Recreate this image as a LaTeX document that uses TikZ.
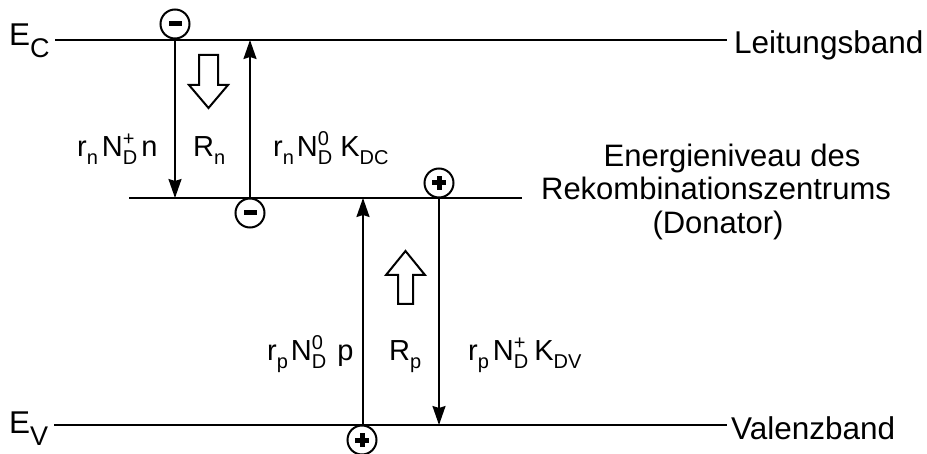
\documentclass[tikz,border=0pt]{standalone}
\usepackage{fontspec}
\setmainfont{Liberation Sans}
\usetikzlibrary{arrows.meta,calc}
\newcommand\lblsize{\fontsize{29}{34}\selectfont}
\newcommand\subsz{\fontsize{20}{24}\selectfont}
\newcommand\lo[1]{\raisebox{-0.27em}{\subsz #1}}
\newcommand\losup[2]{\rlap{\raisebox{0.4em}{\subsz #1}}\raisebox{-0.27em}{\subsz #2}}
\newcommand\bigsub[1]{\raisebox{-0.38em}{\fontsize{27}{30}\selectfont #1}}
\begin{document}
\begin{tikzpicture}[x=1pt,y=-1pt,
  band/.style={line width=2.5pt},
  flow/.style={line width=2pt,-{Stealth[length=19pt,width=13pt,inset=2pt]}},
  hollow/.style={line width=2pt,fill=white,line join=miter},
  charge/.style={circle,draw,line width=2pt,minimum size=29pt,inner sep=0pt},
  lbl/.style={anchor=base west,inner sep=0pt,font=\lblsize},
  big/.style={anchor=base west,inner sep=0pt,font=\fontsize{31.5}{36}\selectfont},
  bigc/.style={anchor=base,inner sep=0pt,font=\fontsize{31}{36}\selectfont}]
\useasboundingbox (0,0) rectangle (927,454);

% band coordinates
\coordinate (cL) at (55,40);   \coordinate (cR) at (727,40);
\coordinate (mL) at (129,198); \coordinate (mR) at (522,198);
\coordinate (vL) at (54,425);  \coordinate (vR) at (727,425);
\draw[band] (cL) -- (cR);
\draw[band] (mL) -- (mR);
\draw[band] (vL) -- (vR);

% band labels
\node[big] (EC) at (9,46) {E\bigsub{C}};
\node[big] (EV) at (9,434) {E\bigsub{V}};
\node[big] (LB) at (734,54) {Leitungsband};
\node[big] (VB) at (731,439) {Valenzband};
\node[bigc] (t1) at (732,167) {Energieniveau des};
\node[bigc] (t2) at (716,200) {Rekombinationszentrums};
\node[bigc] (t3) at (718,234) {(Donator)};

% charges
\node[charge] (m1) at (175,24) {};
\node[charge] (m2) at (250,213) {};
\node[charge] (p1) at (439,183) {};
\node[charge] (p2) at (362,440) {};
\foreach \c in {m1,m2}{
  \fill ($(\c)+(-6.5,-2.5)$) rectangle ($(\c)+(6.5,2.5)$);}
\foreach \c in {p1,p2}{
  \fill ($(\c)+(-7,-2.5)$) rectangle ($(\c)+(7,2.5)$);
  \fill ($(\c)+(-2.5,-7)$) rectangle ($(\c)+(2.5,7)$);}

% arrow endpoints
\coordinate (a1e) at (175,198);
\coordinate (a2s) at (250,198); \coordinate (a2e) at (250,40);
\coordinate (a3s) at (439,198); \coordinate (a3e) at (439,425);
\coordinate (a4s) at (363,425); \coordinate (a4e) at (363,198);
\draw[flow] (m1.south) -- (a1e);
\draw[flow] (a2s) -- (a2e);
\draw[flow] (a3s) -- (a3e);
\draw[flow] (a4s) -- (a4e);

% hollow arrows
\draw[hollow] (199,55) -- (218,55) -- (218,85) -- (228,85) -- (208.5,108) -- (189,85) -- (199,85) -- cycle;
\draw[hollow] (398,304) -- (413,304) -- (413,275) -- (425,275) -- (405.5,251) -- (386,275) -- (398,275) -- cycle;

% rate labels
\node[lbl] (l1) at (77,157) {r\lo{n}\hspace{4pt}N\losup{+}{D}\hspace{4pt}n};
\node[lbl] (l2) at (193,157) {R\lo{n}};
\node[lbl] (l3) at (273,157) {r\lo{n}\hspace{3pt}N\losup{0}{D}\hspace{8pt}K\lo{DC}};
\node[lbl] (l4) at (267,361) {r\lo{p}\hspace{3pt}N\losup{0}{D}\hspace{11pt}p};
\node[lbl] (l5) at (389,361) {R\lo{p}};
\node[lbl] (l6) at (468,361) {r\lo{p}\hspace{4pt}N\losup{+}{D}\hspace{6pt}K\lo{DV}};
\end{tikzpicture}
\end{document}
